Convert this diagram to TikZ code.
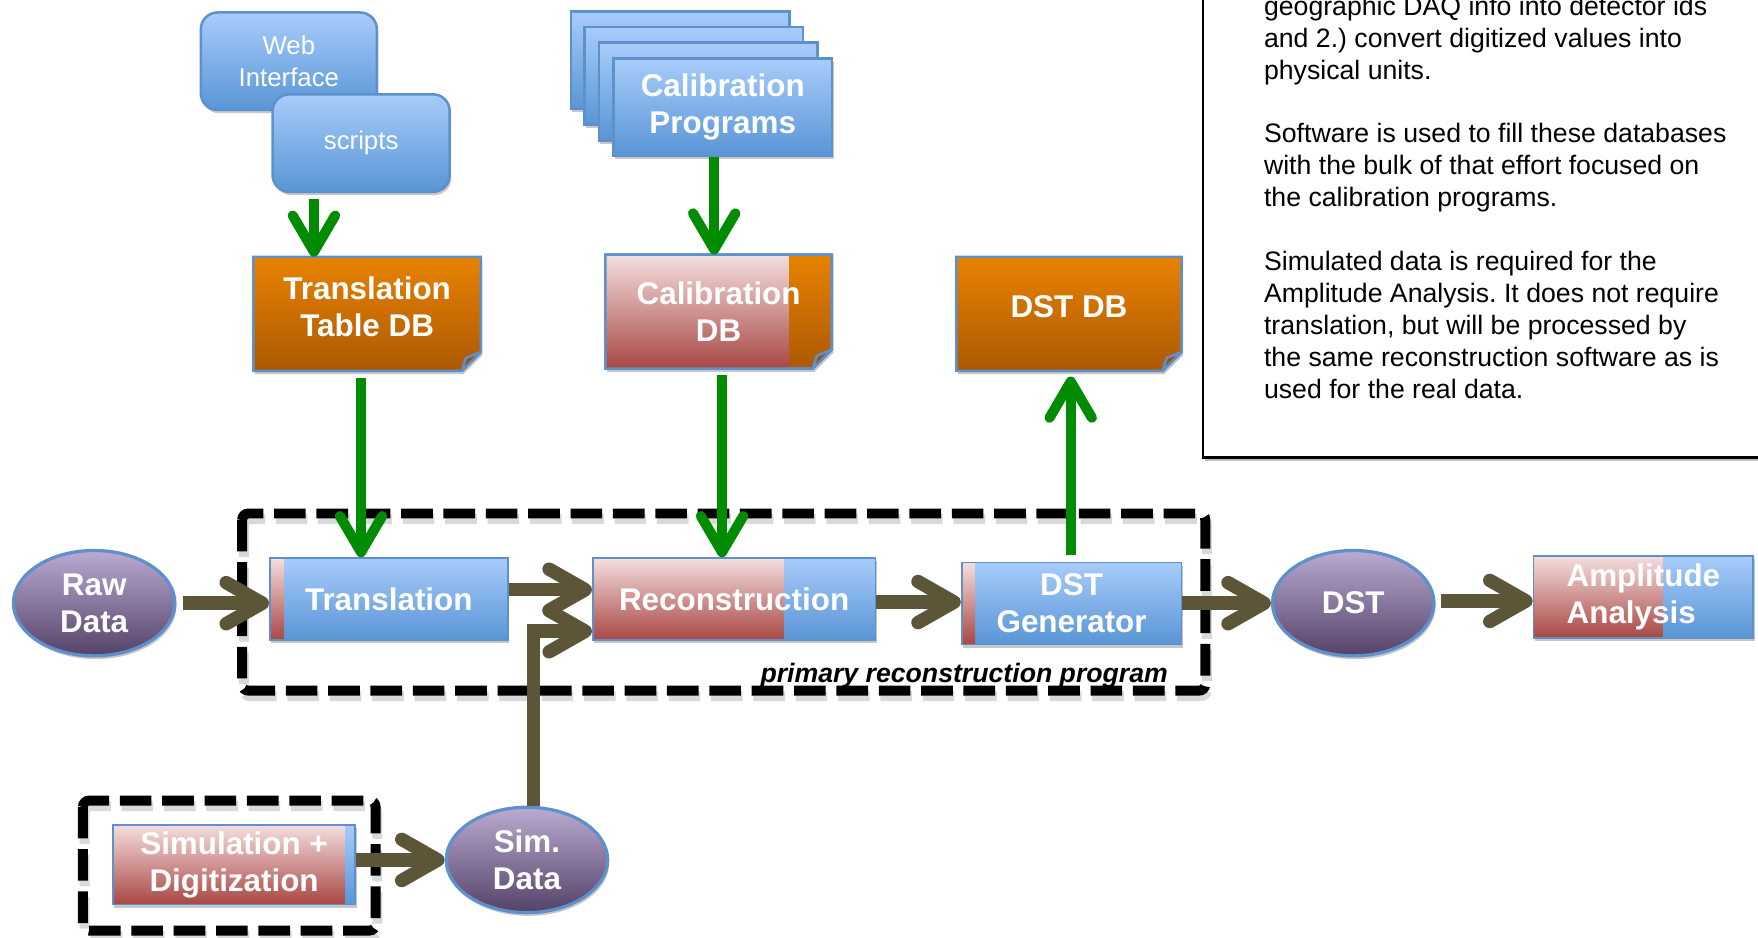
\documentclass[tikz,border=0pt]{standalone}
\usepackage{fontspec}
\setmainfont{Liberation Sans}
\usetikzlibrary{arrows.meta,shapes.geometric,shadows,calc}

\definecolor{bluetop}{HTML}{A7CCFA}
\definecolor{bluebot}{HTML}{5995D6}
\definecolor{redtop}{HTML}{F4DEDE}
\definecolor{redbot}{HTML}{A84743}
\definecolor{orangetop}{HTML}{E88300}
\definecolor{orangebot}{HTML}{AC5805}
\definecolor{flapcol}{HTML}{9E5005}
\definecolor{purptop}{HTML}{BAABD1}
\definecolor{purpbot}{HTML}{544168}
\definecolor{edgeblue}{HTML}{5E90CC}
\definecolor{arrgreen}{HTML}{008C00}
\definecolor{arrbrown}{HTML}{5C5537}

% open chevron tip whose strokes are as thick as the shaft
\pgfdeclarearrow{
  name = Chev,
  parameters = {\the\pgfarrowlength,\the\pgfarrowwidth,\the\pgfarrowlinewidth},
  setup code = {
    \pgfarrowssettipend{.5\pgfarrowlinewidth}
    \pgfarrowssetlineend{-.25\pgfarrowlinewidth}
    \pgfarrowssetbackend{-\pgfarrowlength}
    \pgfarrowssetvisualbackend{-\pgfarrowlength}
    \pgfarrowsupperhullpoint{-\pgfarrowlength}{.5\pgfarrowwidth}
    \pgfarrowshullpoint{.5\pgfarrowlinewidth}{0pt}
    \pgfarrowssavethe\pgfarrowlength
    \pgfarrowssavethe\pgfarrowwidth
    \pgfarrowssavethe\pgfarrowlinewidth
  },
  drawing code = {
    \pgfsetdash{}{0pt}
    \pgfsetroundcap
    \pgfsetroundjoin
    \pgfsetlinewidth{\pgfarrowlinewidth}
    \pgfpathmoveto{\pgfqpoint{-\pgfarrowlength}{.5\pgfarrowwidth}}
    \pgfpathlineto{\pgfqpoint{0pt}{0pt}}
    \pgfpathlineto{\pgfqpoint{-\pgfarrowlength}{-.5\pgfarrowwidth}}
    \pgfusepathqstroke
  },
  defaults = {length=10pt, width=10pt}
}

\newcommand{\foldshape}[3]{%
  \path[top color=#2, bottom color=#3, draw=edgeblue, line width=1pt, softshadow]
    (#1.south west) -- (#1.north west) -- (#1.north east) -- ([yshift=7.65pt]#1.south east)
    -- ([xshift=-7.65pt]#1.south east) -- cycle;}
\newcommand{\foldoutline}[1]{%
  \draw[edgeblue, line width=1pt]
    (#1.south west) -- (#1.north west) -- (#1.north east) -- ([yshift=7.65pt]#1.south east)
    -- ([xshift=-7.65pt]#1.south east) -- cycle;}
\newcommand{\foldflap}[1]{%
  \filldraw[fill=flapcol, draw=edgeblue, line width=1pt, line join=round]
    ([yshift=7.65pt]#1.south east) -- ([xshift=-6pt,yshift=5.2pt]#1.south east)
    -- ([xshift=-7.65pt]#1.south east) -- cycle;}

\tikzset{
  lbl/.style={text=white, font=\fontsize{12.6}{14.85}\selectfont\bfseries, align=center},
  softshadow/.style={drop shadow={shadow xshift=0.6pt, shadow yshift=-1.3pt, opacity=0.22, fill=black}},
  bluebox/.style={rectangle, draw=edgeblue, line width=0.7pt, top color=bluetop, bottom color=bluebot,
    inner sep=0pt, softshadow, lbl},
  splitbox/.style={bluebox, path picture={\shade[top color=redtop, bottom color=redbot]
    (path picture bounding box.south west) rectangle
    ($(path picture bounding box.north west)!#1!(path picture bounding box.north east)$);}},
  roundbox/.style={bluebox, rounded corners=6.75pt, line width=1pt, minimum height=39.15pt,
    anchor=north west, font=\fontsize{10.35}{13}\selectfont},
  stackbox/.style={bluebox, line width=1pt, minimum width=87.75pt, minimum height=39.15pt, anchor=north west},
  dataell/.style={ellipse, draw=edgeblue, line width=1.3pt, top color=purptop, bottom color=purpbot,
    minimum width=64.8pt, minimum height=42.3pt, inner sep=0pt, softshadow, lbl},
  dbframe/.style={rectangle, inner sep=0pt, minimum width=#1, minimum height=45.45pt, anchor=north west},
  rowbox/.style={minimum height=32.85pt, anchor=north west},
  greenarr/.style={draw=arrgreen, line width=4.05pt, -{Chev[length=14.5pt, width=17pt, line width=4.05pt]}},
  brownarr/.style={draw=arrbrown, line width=5.4pt, -{Chev[length=14.5pt, width=16.5pt, line width=5.4pt]}},
  dashbox/.style={draw=black, line width=4pt, dash pattern=on 12.7pt off 4.3pt, rounded corners=2.5pt},
  dashshadow/.style={draw=black, opacity=0.15, line width=4pt, dash pattern=on 12.7pt off 4.3pt, rounded corners=2.5pt},
}

\begin{document}
\begin{tikzpicture}[x=0.45pt, y=-0.45pt]
\useasboundingbox (0,0) rectangle (1568,836);
\clip (0,0) rectangle (1568,836);

% explanatory note box
\draw[fill=white, line width=1.1pt, drop shadow={shadow xshift=0.6pt, shadow yshift=-1.6pt, opacity=0.25, fill=black}]
  (1073,-40) rectangle (1640,408);
\node[anchor=north west, align=left, inner sep=0pt, font=\fontsize{10.7}{12.83}\selectfont\frenchspacing] (notetext) at (1127,-4.2)
{geographic DAQ info into detector ids\\
and 2.) convert digitized values into\\
physical units.\\[12.83pt]
Software is used to fill these databases\\
with the bulk of that effort focused on\\
the calibration programs.\\[12.83pt]
Simulated data is required for the\\
Amplitude Analysis. It does not require\\
translation, but will be processed by\\
the same reconstruction software as is\\
used for the real data.};

% dashed groups
\draw[dashshadow] (217.5,463) rectangle (1076.5,621);
\draw[dashshadow] (75.5,719) rectangle (336.5,835);
\draw[dashbox] (216,458) rectangle (1075,616);
\draw[dashbox] (74,714) rectangle (335,830);

% top row
\node[roundbox, minimum width=70.65pt] (web) at (178,10) {Web\\Interface};
\node[roundbox, minimum width=71.1pt] (scripts) at (242,83) {scripts};
\node[stackbox] (cp1) at (508,9) {};
\node[stackbox] (cp2) at (520,23) {};
\node[stackbox] (cp3) at (533,37) {};
\node[stackbox] (cp4) at (546,51) {\raisebox{-0.8pt}{\begin{tabular}{@{}c@{}}Calibration\\Programs\end{tabular}}};

% databases
\node[dbframe=90.9pt] (ttdb) at (226,229) {};
\node[dbframe=90.45pt] (caldb) at (540,227) {};
\node[dbframe=90pt] (dstdb) at (853,229) {};

\foldshape{ttdb}{orangetop}{orangebot}
\foldflap{ttdb}
\foldshape{caldb}{orangetop}{orangebot}
\shade[top color=redtop, bottom color=redbot] (caldb.south west) rectangle ($(caldb.north west)!0.81!(caldb.north east)$);
\foldoutline{caldb}
\foldflap{caldb}
\foldshape{dstdb}{orangetop}{orangebot}
\foldflap{dstdb}

\node[lbl] (ttdbtext) at ([yshift=2.9pt]ttdb.center) {Translation\\Table DB};
\node[lbl] (caldbtext) at (caldb.center) {Calibration\\DB};
\node[lbl] (dstdbtext) at ([yshift=2.9pt]dstdb.center) {DST DB};

% main row
\node[dataell] (rawdata) at (84,538) {Raw\\Data};
\node[splitbox=0.057, rowbox, minimum width=95.4pt] (transl) at (240,497) {Translation};
\node[splitbox=0.675, rowbox, minimum width=113.4pt] (recon) at (528,497) {Reconstruction};
\node[splitbox=0.061, rowbox, minimum width=88.2pt] (dstgen) at (857,501) {DST\\Generator};
\node[dataell] (dst) at (1207,538) {DST};
\node[splitbox=0.587, rowbox, minimum width=88.2pt, align=left] (ampl) at (1367,495) {Amplitude\\Analysis};

% simulation row
\node[splitbox=0.958, rowbox, minimum width=97.2pt, minimum height=31.95pt] (simdig) at (100,735) {Simulation +\\Digitization};
\node[dataell] (simdata) at (470,767) {Sim.\\Data};

% helper coordinates
\coordinate (gx1) at (280,0);
\coordinate (gx2) at (637,0);
\coordinate (gx3) at (322,0);
\coordinate (gx4) at (644,0);
\coordinate (gx5) at (955,0);
\coordinate (by2) at (0,526);
\coordinate (bx3) at (476,0);
\coordinate (by3) at (0,563);
\coordinate (by4) at (0,537);
\coordinate (by6) at (0,536);

% green arrows
\draw[greenarr, shorten <=2.25pt] (scripts.south -| gx1) -- (ttdb.north -| gx1);
\draw[greenarr] (cp4.south -| gx2) -- (caldb.north -| gx2);
\draw[greenarr, shorten <=2.7pt] (ttdb.south -| gx3) -- (transl.north -| gx3);
\draw[greenarr, shorten <=2.7pt] (caldb.south -| gx4) -- (recon.north -| gx4);
\draw[greenarr, shorten <=2.7pt, shorten >=2.25pt] (dstgen.north -| gx5) -- (dstdb.south -| gx5);

% brown arrows
\draw[brownarr, shorten <=2.7pt] (rawdata.east) -- (rawdata.east -| transl.west);
\draw[brownarr] (transl.east |- by2) -- (recon.west |- by2);
\draw[brownarr] (simdata.north -| bx3) |- (recon.west |- by3);
\draw[brownarr] (recon.east |- by4) -- (dstgen.west |- by4);
\draw[brownarr] (dst.west -| dstgen.east) -- (dst.west);
\draw[brownarr, shorten <=2.25pt] (dst.east |- by6) -- (ampl.west |- by6);
\draw[brownarr] (simdata.west -| simdig.east) -- (simdata.west);

\node[font=\fontsize{10.7}{12}\selectfont\bfseries\itshape, inner sep=0pt] (prlabel) at (860,603) {primary reconstruction program};
\end{tikzpicture}
\end{document}
